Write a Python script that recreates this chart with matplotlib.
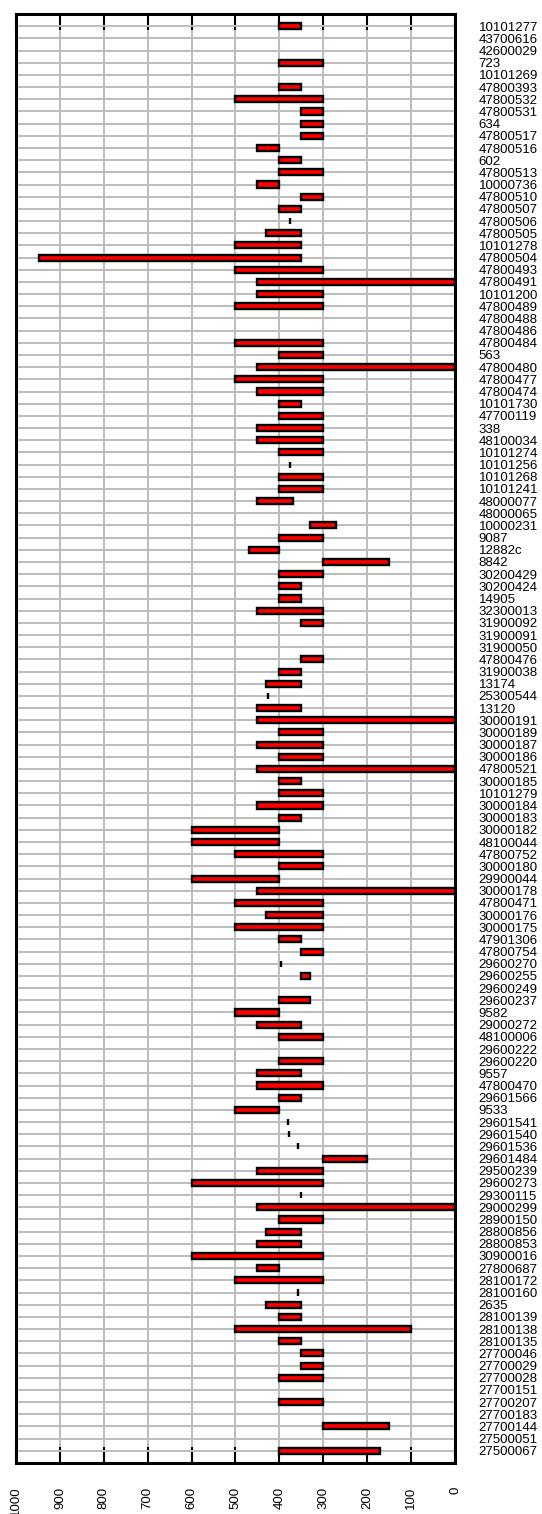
import numpy as np
import matplotlib
matplotlib.use("Agg")
import matplotlib.pyplot as plt

plt.rcParams['font.family'] = ['Liberation Sans', 'DejaVu Sans']

# sample ids, top to bottom
ids = ["10101277", "43700616", "42600029", "723", "10101269", "47800393", "47800532",
       "47800531", "634", "47800517", "47800516", "602", "47800513", "10000736",
       "47800510", "47800507", "47800506", "47800505", "10101278", "47800504",
       "47800493", "47800491", "10101200", "47800489", "47800488", "47800486",
       "47800484", "563", "47800480", "47800477", "47800474", "10101730", "47700119",
       "338", "48100034", "10101274", "10101256", "10101268", "10101241", "48000077",
       "48000065", "10000231", "9087", "12882c", "8842", "30200429", "30200424",
       "14905", "32300013", "31900092", "31900091", "31900050", "47800476", "31900038",
       "13174", "25300544", "13120", "30000191", "30000189", "30000187", "30000186",
       "47800521", "30000185", "10101279", "30000184", "30000183", "30000182",
       "48100044", "47800752", "30000180", "29900044", "30000178", "47800471",
       "30000176", "30000175", "47901306", "47800754", "29600270", "29600255",
       "29600249", "29600237", "9582", "29000272", "48100006", "29600222", "29600220",
       "9557", "47800470", "29601566", "9533", "29601541", "29601540", "29601536",
       "29601484", "29500239", "29600273", "29300115", "29000299", "28900150",
       "28800856", "28800853", "30900016", "27800687", "28100172", "28100160", "2635",
       "28100139", "28100138", "28100135", "27700046", "27700029", "27700028",
       "27700151", "27700207", "27700183", "27700144", "27500051", "27500067"]

nan = np.nan
# upper end of each range (left side, axis runs 1000 -> 0)
upper = [400, nan, nan, 400, nan, 400, 500, 350, 350, 350, 450, 400, 400, 450,
         350, 400, 375, 430, 500, 948, 500, 450, 450, 500, nan, nan, 500, 400,
         450, 500, 450, 400, 400, 450, 450, 400, 375, 400, 400, 450, nan, 330,
         400, 470, 300, 400, 400, 400, 450, 350, nan, nan, 350, 400, 430, 426,
         450, 450, 400, 450, 400, 450, 400, 400, 450, 400, 600, 600, 500, 400,
         600, 450, 500, 430, 500, 400, 350, 397, 350, nan, 400, 500, 450, 400,
         nan, 400, 450, 450, 400, 500, 381, 377, 358, 300, 450, 600, 350, 450,
         400, 430, 450, 600, 450, 500, 358, 430, 400, 500, 400, 350, 350, 400,
         nan, 400, nan, 300, nan, 400]
# lower end of each range
lower = [350, nan, nan, 300, nan, 350, 300, 300, 300, 300, 400, 350, 300, 400,
         300, 350, 375, 350, 350, 350, 300, 0, 300, 300, nan, nan, 300, 300,
         0, 300, 300, 350, 300, 300, 300, 300, 375, 300, 300, 370, nan, 270,
         300, 400, 150, 300, 350, 350, 300, 300, nan, nan, 300, 350, 350, 426,
         350, 0, 300, 300, 300, 0, 350, 300, 300, 350, 400, 400, 300, 300,
         400, 0, 300, 300, 300, 350, 300, 397, 330, nan, 330, 400, 350, 300,
         nan, 300, 350, 300, 350, 400, 381, 377, 358, 200, 300, 300, 350, 0,
         300, 350, 350, 300, 400, 300, 358, 350, 350, 100, 350, 300, 300, 300,
         nan, 300, nan, 150, nan, 170]

upper = np.array(upper, dtype=float)
lower = np.array(lower, dtype=float)
n = len(ids)
ypos = np.arange(n)
has = ~np.isnan(upper)

fig = plt.figure(figsize=(5.42, 15.14), dpi=100)
ax = fig.add_axes([0.0295, 0.0337, 0.81, 0.957])

ax.barh(ypos[has], upper[has] - lower[has], left=lower[has], height=0.5,
        color='#ff0000', edgecolor='black', linewidth=1.7, zorder=3)

ax.set_xlim(1000, 0)
ax.set_ylim(n, -1)

ax.set_xticks(np.arange(0, 1001, 100))
ax.set_yticks(ypos)
ax.set_yticklabels(ids, fontsize=9.5)
ax.yaxis.tick_right()
ax.tick_params(axis='y', length=0, pad=17)
ax.tick_params(axis='x', direction='in', length=11.5, width=1.5, top=True,
               bottom=True, labelsize=9.5, labelrotation=90, pad=17)

ax.set_axisbelow(True)
ax.grid(True, color='#bcbcbc', linewidth=1.4)

for s in ax.spines.values():
    s.set_linewidth(2.2)

fig.savefig('out.png', dpi=100)
